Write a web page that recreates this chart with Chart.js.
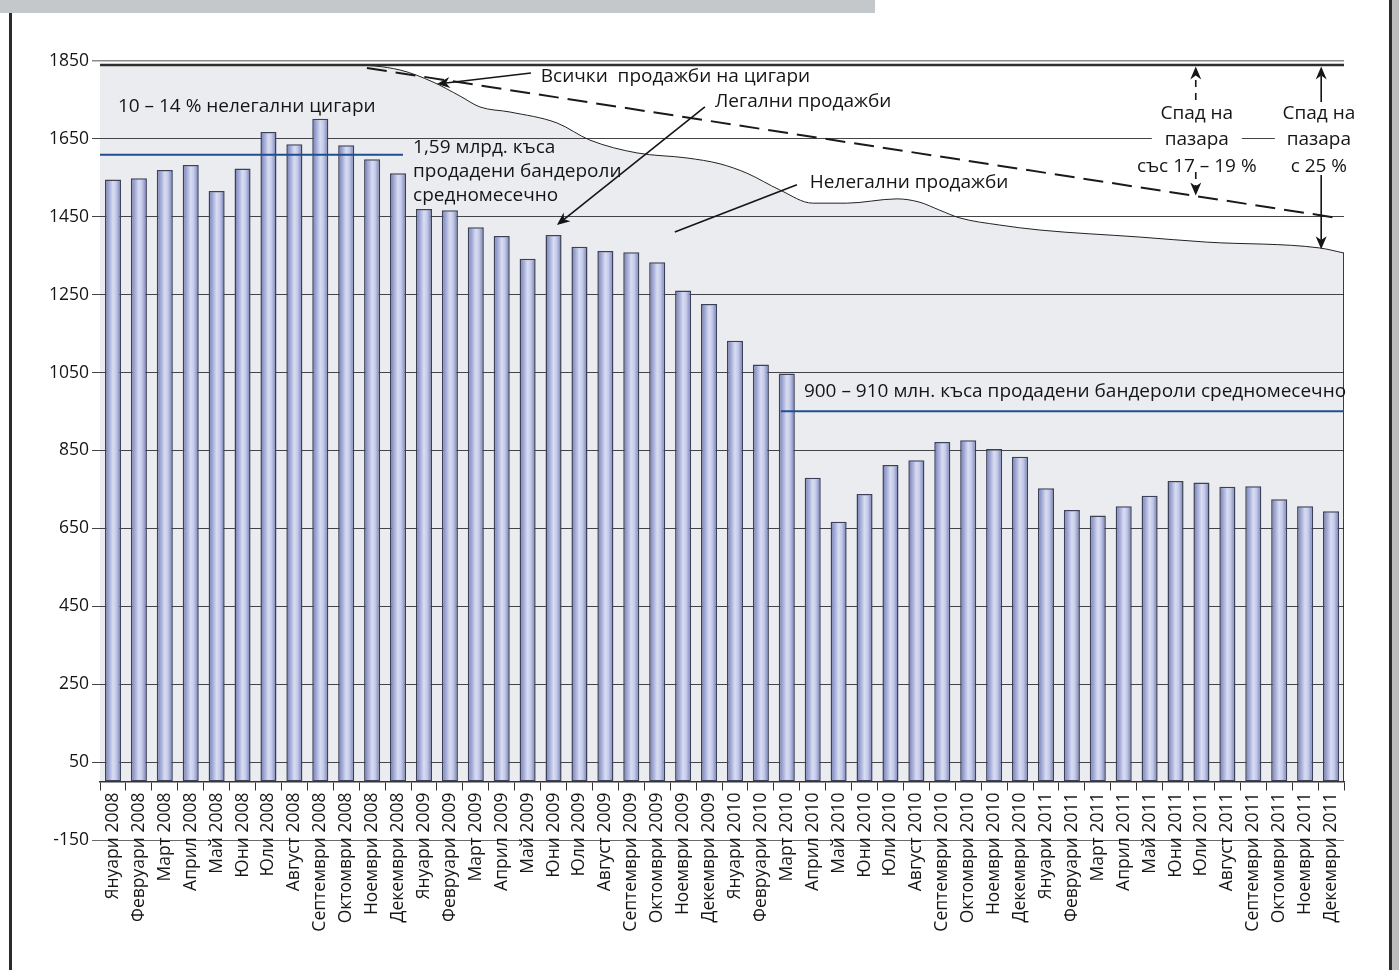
<!DOCTYPE html>
<html lang="bg">
<head>
<meta charset="UTF-8">
<title>Продажби на цигари 2008 – 2011</title>
<script src="https://cdn.jsdelivr.net/npm/chart.js@4"></script>
<style>
  body { margin: 0; background: #fff; }
  .page { position: relative; width: 1399px; height: 970px; overflow: hidden; }
  .banner { position: absolute; left: 0; top: 0; width: 875px; height: 13px; background: #c5c8ca; }
  .edge-left { position: absolute; left: 9px; top: 13px; width: 3px; height: 957px; background: #2b2b2b; }
  .edge-right { position: absolute; left: 1389px; top: 0; width: 3px; height: 970px; background: #2b2b2b; }
  .edge-right-fill { position: absolute; left: 1392px; top: 0; width: 7px; height: 970px; background: #bdbdbd; }
  canvas { position: absolute; left: 0; top: 0; }
</style>
</head>
<body>
<div class="page">
  <div class="banner"></div>
  <div class="edge-left"></div>
  <div class="edge-right"></div>
  <div class="edge-right-fill"></div>
  <canvas id="chart" width="1399" height="970"></canvas>
</div>
<script>
const months = ['Януари', 'Февруари', 'Март', 'Април', 'Май', 'Юни', 'Юли', 'Август',
  'Септември', 'Октомври', 'Ноември', 'Декември'];
const years = ['2008', '2009', '2010', '2011'];
const labels = years.flatMap(y => months.map(m => m + ' ' + y));

// legal sales (banderoles sold), mln pieces per month
const legalSales = [
  1546, 1549, 1570, 1583, 1516, 1574, 1668, 1636, 1702, 1634, 1598, 1562,
  1470, 1467, 1423, 1401, 1342, 1403, 1373, 1362, 1359, 1333, 1261, 1226,
  1132, 1071, 1048, 780, 667, 738, 813, 825, 872, 876, 854, 834,
  753, 697, 683, 707, 734, 772, 768, 757, 758, 725, 707, 694
];

// whole market curve (legal + illegal), x in month positions
const marketX = [-0.5, 8.4, 9.15, 11.07, 12.35, 13.39, 14.16, 15.32, 17.13, 18.4, 20.22, 22.15,
  23.42, 24.46, 25.73, 27.0, 28.3, 30.25, 31.1, 31.9, 32.68, 34.2, 35.77, 39.62, 42.2, 46.56, 47.5];
const marketY = [1840, 1840, 1840, 1827, 1796, 1760, 1732, 1719, 1691, 1647, 1614, 1601,
  1586, 1562, 1519, 1485, 1485, 1496, 1488, 1467, 1447, 1429, 1416, 1398, 1385, 1370, 1357];

const allSalesLevel = 1840;
const trendX = [9.8, 47.26];
const trendY = [1832, 1447];
const avg2008 = 1609;
const avg2008X = [-0.5, 11.19];
const avg2010 = 951;
const avg2010X = [25.77, 47.5];

const yTicks = [-150, 50, 250, 450, 650, 850, 1050, 1250, 1450, 1650, 1850];

// text notes, anchored in data units (x = month position, y = value)
const notes = [
  { lines: ['10 – 14 % нелегални цигари'], x: 0.19, y: 1732, align: 'left' },
  { lines: ['1,59 млрд. къса', 'продадени бандероли', 'средномесечно'], x: 11.58, y: 1627, align: 'left' },
  { lines: ['Всички  продажби на цигари'], x: 16.51, y: 1810, align: 'left' },
  { lines: ['Легални продажби'], x: 23.23, y: 1746, align: 'left' },
  { lines: ['Нелегални продажби'], x: 26.89, y: 1538, align: 'left' },
  { lines: ['900 – 910 млн. къса продадени бандероли средномесечно'], x: 26.66, y: 1001, align: 'left' },
  { lines: ['Спад на', 'пазара', 'със 17 – 19 %'], x: 41.82, y: 1716, align: 'center', box: 90 },
  { lines: ['Спад на', 'пазара', 'с 25 %'], x: 46.53, y: 1716, align: 'center', box: 88 }
];

const arrows = [
  { from: [16.13, 1819], to: [12.5, 1791], head: true },
  { from: [22.84, 1732], to: [17.13, 1429], head: true },
  { from: [26.39, 1532], to: [21.68, 1411], head: false },
  { from: [41.78, 1750], to: [41.78, 1836], head: true, dash: [7, 6] },
  { from: [41.78, 1565], to: [41.78, 1505], head: true, dash: [7, 6] },
  { from: [46.62, 1745], to: [46.62, 1836], head: true },
  { from: [46.62, 1557], to: [46.62, 1367], head: true }
];

const pts = (xs, ys) => xs.map((x, i) => ({ x: x, y: ys[i] }));

function barFill(c) {
  const chart = c.chart, xs = chart.scales.x;
  if (!xs || !chart.chartArea) return '#a9b0d8';
  const cx = xs.getPixelForValue(c.dataIndex);
  const half = xs.width / labels.length * 0.62 / 2;
  const g = chart.ctx.createLinearGradient(cx - half, 0, cx + half, 0);
  g.addColorStop(0, '#737bb0');
  g.addColorStop(0.25, '#a2aad6');
  g.addColorStop(0.5, '#d9ddf2');
  g.addColorStop(0.7, '#c3c9e9');
  g.addColorStop(0.9, '#8b93c3');
  g.addColorStop(1, '#6a72a7');
  return g;
}

function drawArrow(ctx, x1, y1, x2, y2, head, dash) {
  const a = Math.atan2(y2 - y1, x2 - x1);
  const len = head ? 13 : 0, w = 5.5;
  const c = Math.cos(a), s = Math.sin(a);
  ctx.setLineDash(dash || []);
  ctx.beginPath();
  ctx.moveTo(x1, y1);
  ctx.lineTo(x2 - c * len * 0.7, y2 - s * len * 0.7);
  ctx.stroke();
  ctx.setLineDash([]);
  if (!head) return;
  ctx.beginPath();
  ctx.moveTo(x2, y2);
  ctx.lineTo(x2 - c * len - s * w, y2 - s * len + c * w);
  ctx.lineTo(x2 - c * len * 0.7, y2 - s * len * 0.7);
  ctx.lineTo(x2 - c * len + s * w, y2 - s * len - c * w);
  ctx.closePath();
  ctx.fill();
}

const annotate = {
  id: 'annotate',
  afterDatasetsDraw(chart) {
    const { ctx } = chart;
    const xs = chart.scales.x2, ys = chart.scales.y;
    const lh = 26.5;
    ctx.save();
    ctx.font = '19px "Open Sans"';
    ctx.textBaseline = 'middle';
    notes.forEach(n => {
      const px = xs.getPixelForValue(n.x), py = ys.getPixelForValue(n.y);
      const step = n.box ? lh : 24;
      if (n.box) {
        ctx.fillStyle = '#fff';
        ctx.fillRect(px - n.box / 2, py - step / 2, n.box, step * n.lines.length);
      }
      ctx.fillStyle = '#151515';
      ctx.textAlign = n.align;
      n.lines.forEach((t, i) => ctx.fillText(t, px, py + i * step));
    });
    ctx.strokeStyle = '#151515';
    ctx.fillStyle = '#151515';
    ctx.lineWidth = 1.6;
    arrows.forEach(a => drawArrow(ctx,
      xs.getPixelForValue(a.from[0]), ys.getPixelForValue(a.from[1]),
      xs.getPixelForValue(a.to[0]), ys.getPixelForValue(a.to[1]), a.head, a.dash));
    ctx.restore();
  }
};

Chart.defaults.font.family = "'Open Sans', sans-serif";
Chart.defaults.color = '#151515';

const lineBase = { type: 'line', xAxisID: 'x2', yAxisID: 'y', pointRadius: 0, fill: false, order: 0 };

new Chart(document.getElementById('chart'), {
  data: {
    labels: labels,
    datasets: [
      {
        type: 'bar', label: 'Легални продажби', data: legalSales, xAxisID: 'x', yAxisID: 'y',
        backgroundColor: barFill, borderColor: '#3d4158', borderWidth: 1.5, borderSkipped: false,
        grouped: false, barPercentage: 0.62, categoryPercentage: 1, order: 1
      },
      Object.assign({}, lineBase, {
        label: 'Нелегални продажби', data: pts(marketX, marketY), fill: 'origin',
        backgroundColor: 'rgba(60,70,100,0.1)', borderColor: '#222', borderWidth: 1,
        cubicInterpolationMode: 'monotone', order: 10
      }),
      Object.assign({}, lineBase, {
        label: 'край', data: pts([47.5, 47.5], [marketY[marketY.length - 1], 0]),
        borderColor: '#222', borderWidth: 1, order: 9
      }),
      Object.assign({}, lineBase, {
        label: 'Всички продажби', data: pts([-0.5, 47.5], [allSalesLevel, allSalesLevel]),
        borderColor: '#2e2e2e', borderWidth: 2.5
      }),
      Object.assign({}, lineBase, {
        label: 'Тенденция', data: pts(trendX, trendY),
        borderColor: '#1a1a1a', borderWidth: 2, borderDash: [20, 9]
      }),
      Object.assign({}, lineBase, {
        label: '1,59 млрд.', data: pts(avg2008X, [avg2008, avg2008]),
        borderColor: '#1f4f8f', borderWidth: 2
      }),
      Object.assign({}, lineBase, {
        label: '900 – 910 млн.', data: pts(avg2010X, [avg2010, avg2010]),
        borderColor: '#1f4f8f', borderWidth: 2
      })
    ]
  },
  options: {
    responsive: false,
    animation: false,
    devicePixelRatio: 1,
    layout: { padding: { left: 0, top: 61, right: 55, bottom: 130 } },
    plugins: { legend: { display: false }, tooltip: { enabled: false } },
    scales: {
      x: {
        type: 'category',
        position: { y: 0 },
        offset: true,
        grid: { offset: true, drawOnChartArea: false, drawTicks: true, tickLength: 8, color: '#333', lineWidth: 1 },
        border: { display: true, color: '#333', width: 1.5 },
        ticks: { autoSkip: false, minRotation: 90, maxRotation: 90, padding: 3, font: { size: 17.5 }, color: '#151515' }
      },
      x2: { type: 'linear', position: 'bottom', display: false, min: -0.5, max: 47.5 },
      y: {
        min: -150, max: 1850,
        afterFit: s => { s.width = 100; },
        afterBuildTicks: s => { s.ticks = yTicks.map(v => ({ value: v })); },
        border: { display: false },
        grid: {
          tickLength: 8,
          color: c => c.tick.value === 1850 ? '#8c8c8c' : (c.tick.value === -150 ? '#6a6a6a' : '#444'),
          lineWidth: c => c.tick.value === 1850 ? 1.5 : 1
        },
        ticks: { padding: 3, font: { size: 17.5 }, color: '#151515', callback: v => String(v) }
      }
    }
  },
  plugins: [annotate]
});
</script>
</body>
</html>
